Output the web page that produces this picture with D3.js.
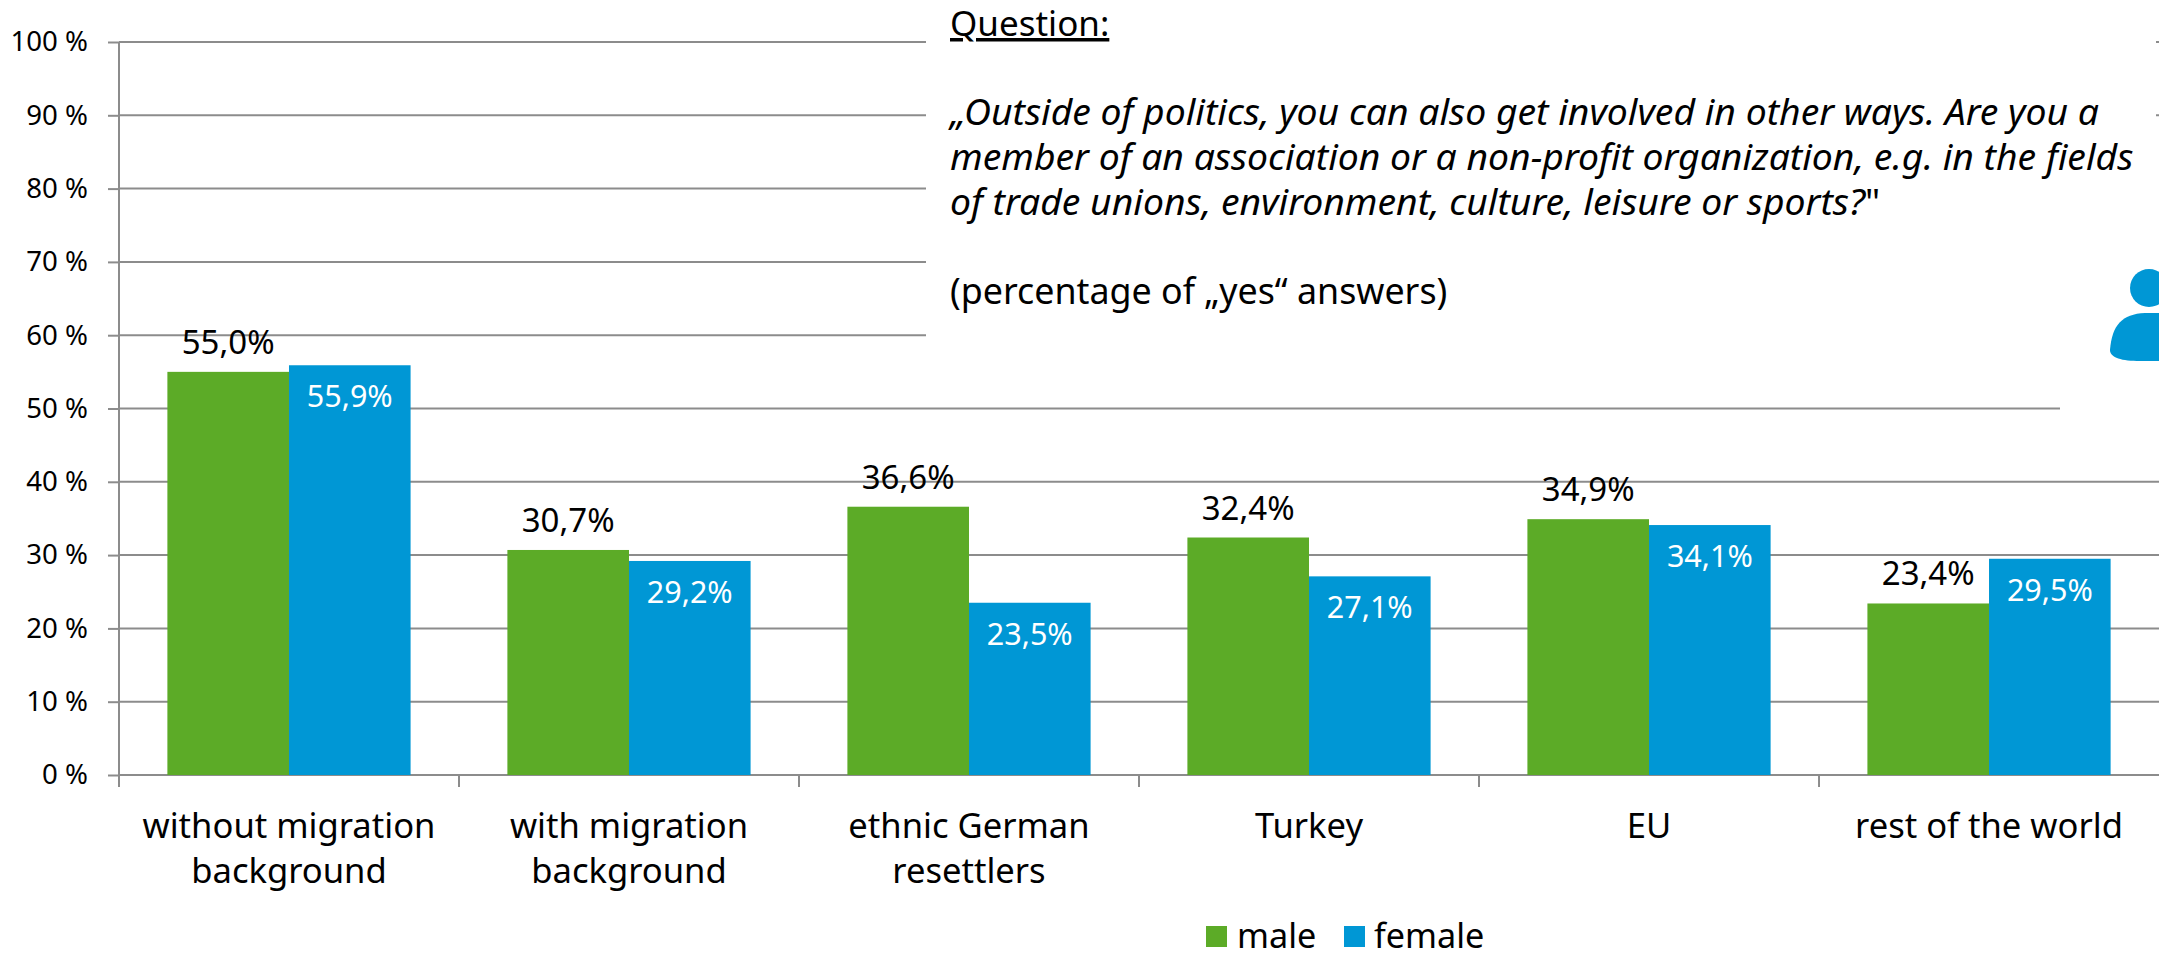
<!DOCTYPE html>
<html><head><meta charset="utf-8">
<script src="https://cdn.jsdelivr.net/npm/d3@7"></script>
<style>html,body{margin:0;padding:0;background:#fff;overflow:hidden}svg{display:block}text{font-family:"Noto Sans",sans-serif;fill:#000}</style>
</head><body><svg id="c" width="2159" height="953"></svg>
<script>
const categories = [["without migration","background"],["with migration","background"],["ethnic German","resettlers"],["Turkey"],["EU"],["rest of the world"]];
const male = [55.0,30.7,36.6,32.4,34.9,23.4];
const female = [55.9,29.2,23.5,27.1,34.1,29.5];
const seriesNames = ["male","female"];
const seriesColors = ["#5cab27","#0097d5"];
const yTicks = [0,10,20,30,40,50,60,70,80,90,100];
const fmt = v => v.toFixed(1).replace(".",",")+"%";

const svg = d3.select("#c");
const x0 = d3.scaleBand().domain(d3.range(categories.length)).range([119,2159]).paddingInner(0.2847).paddingOuter(0.1423);
const xs = d3.scaleBand().domain([0,1]).range([0,x0.bandwidth()]);
const y = d3.scaleLinear().domain([0,100]).range([775,42]);

// y axis
const gy = svg.append("g").attr("transform","translate(119,0)")
  .call(d3.axisLeft(y).tickValues(yTicks).tickSize(11).tickPadding(20).tickFormat(d=>d+" %"));
gy.selectAll("line").attr("stroke","#8c8c8c").attr("stroke-width",2);
gy.select(".domain").remove();
gy.selectAll("text").attr("font-size",27.6).style("font-family",'"Noto Sans",sans-serif');
svg.append("line").attr("x1",119).attr("x2",119).attr("y1",y(100)).attr("y2",787).attr("stroke","#8c8c8c").attr("stroke-width",2);

// gridlines
svg.append("g").selectAll("line").data(yTicks).join("line")
  .attr("x1",119).attr("x2",2159).attr("y1",d=>y(d)).attr("y2",d=>y(d))
  .attr("stroke","#8c8c8c").attr("stroke-width",2);

// x ticks
const step = x0.step();
svg.append("g").selectAll("line").data(d3.range(1,categories.length)).join("line")
  .attr("x1",d=>119+d*step).attr("x2",d=>119+d*step).attr("y1",775).attr("y2",787)
  .attr("stroke","#8c8c8c").attr("stroke-width",2);

// white cover boxes behind the question text and icon
svg.append("rect").attr("x",926).attr("y",0).attr("width",1230).attr("height",380).attr("fill","#fff");
svg.append("rect").attr("x",2060).attr("y",380).attr("width",99).attr("height",36).attr("fill","#fff");
svg.append("rect").attr("x",2156).attr("y",130).attr("width",3).attr("height",260).attr("fill","#fff");

// bars
[male,female].forEach((vals,s)=>{
  svg.append("g").selectAll("rect").data(vals).join("rect")
    .attr("x",(d,i)=>x0(i)+xs(s)).attr("width",xs.bandwidth())
    .attr("y",d=>y(d)).attr("height",d=>y(0)-y(d)).attr("fill",seriesColors[s]);
});
// value labels
svg.append("g").selectAll("text").data(male).join("text")
  .attr("x",(d,i)=>x0(i)+xs(0)+xs.bandwidth()/2).attr("y",d=>y(d)-18)
  .attr("text-anchor","middle").attr("font-size",33).text(fmt);
svg.append("g").selectAll("text").data(female).join("text")
  .attr("x",(d,i)=>x0(i)+xs(1)+xs.bandwidth()/2).attr("y",d=>y(d)+42)
  .attr("text-anchor","middle").attr("font-size",30.5).style("fill","#fff").text(fmt);

// category labels
const cat = svg.append("g").selectAll("text").data(categories).join("text")
  .attr("text-anchor","middle").attr("font-size",34.6);
cat.selectAll("tspan").data((d,i)=>d.map(t=>({t,i}))).join("tspan")
  .attr("x",d=>x0(d.i)+x0.bandwidth()/2).attr("y",(d,k)=>838+k*45).text(d=>d.t);

// question
const q = svg.append("g");
q.append("text").attr("x",950).attr("y",36).attr("font-size",35).attr("text-decoration","underline").text("Question:");
const italicLines = [["„Outside of politics, you can also get involved in other ways. Are you a",125],
 ["member of an association or a non-profit organization, e.g. in the fields",170],
 ["of trade unions, environment, culture, leisure or sports?",215]];
let last;
italicLines.forEach(([t,b])=>{
  last = q.append("text").attr("x",950).attr("y",b).attr("font-size",37.3).attr("font-style","italic").text(t);
});
last.append("tspan").attr("font-style","normal").text("\"");
q.append("text").attr("x",950).attr("y",304).attr("font-size",35.8).text("(percentage of „yes“ answers)");

// icon
const icon = svg.append("g").attr("fill","#0097d5");
icon.append("circle").attr("cx",2149).attr("cy",288).attr("r",19);
icon.append("path").attr("d","M2110,350 C2112,325 2122,314 2145,313 L2159,313 L2159,361 L2140,361 C2122,361 2110,358 2110,350 Z");

// legend
const lg = [[1206,1237],[1344,1374]];
seriesNames.forEach((n,i)=>{
  svg.append("rect").attr("x",lg[i][0]).attr("y",926).attr("width",21).attr("height",21).attr("fill",seriesColors[i]);
  svg.append("text").attr("x",lg[i][1]).attr("y",948).attr("font-size",34.2).text(n);
});
</script></body></html>
